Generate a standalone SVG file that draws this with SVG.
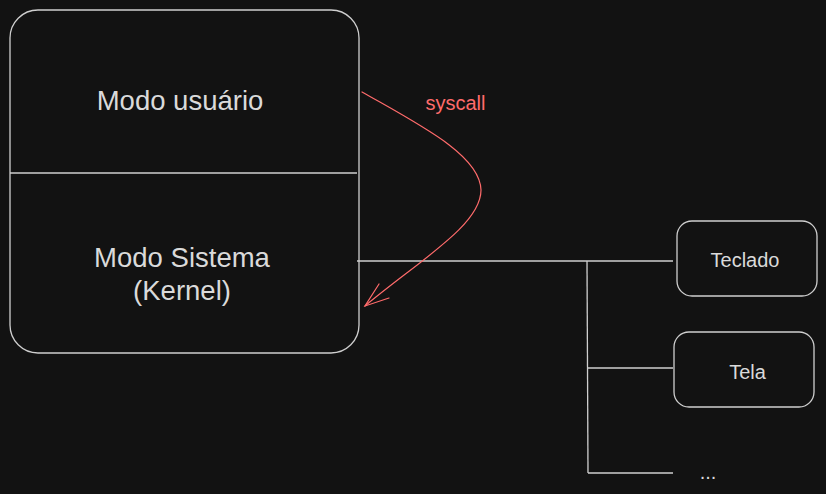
<svg xmlns="http://www.w3.org/2000/svg" width="826" height="494" viewBox="0 0 826 494">
<style>
.box{fill:#121212;stroke:#cfcfcf;stroke-width:1.3}
.ln{fill:none;stroke:#cfcfcf;stroke-width:1.3}
.t{font-family:"Liberation Sans",Arial,sans-serif;fill:#dadada;text-anchor:middle}
.red{fill:none;stroke:#ff6b6b;stroke-width:1.2;stroke-linecap:round}
</style>
<rect width="826" height="494" fill="#121212"/>
<g id="main">
<rect class="box" x="10" y="10" width="349" height="343" rx="28"/>
<line class="ln" x1="10" y1="173" x2="357" y2="173"/>
<text class="t" x="180" y="110" font-size="27.5">Modo usuário</text>
<text class="t" x="182" y="267" font-size="27.5">Modo Sistema</text>
<text class="t" x="182" y="300" font-size="27.5">(Kernel)</text>
</g>
<g id="teclado">
<rect class="box" x="677" y="221" width="140" height="75" rx="15"/>
<text class="t" x="745" y="267" font-size="20">Teclado</text>
</g>
<g id="tela">
<rect class="box" x="674" y="332" width="140" height="75" rx="15"/>
<text class="t" x="747.5" y="378.5" font-size="20">Tela</text>
</g>
<g id="more">
<text class="t" x="708" y="479" font-size="20">...</text>
</g>
<g id="connectors">
<path class="ln" d="M357 261 L673 261"/>
<path class="ln" d="M587 261 L588 473"/>
<path class="ln" d="M587 368 L673 368"/>
<path class="ln" d="M588 473 L673 473"/>
<path class="red" d="M362 92 C420 125 480 155 481 190 C481 225 420 260 365 306"/>
<path class="red" d="M379 284 L365 306 L389 298"/>
<text x="455.5" y="110" font-size="20" font-family="Liberation Sans,Arial,sans-serif" fill="#ff6b6b" text-anchor="middle">syscall</text>
</g>
</svg>
